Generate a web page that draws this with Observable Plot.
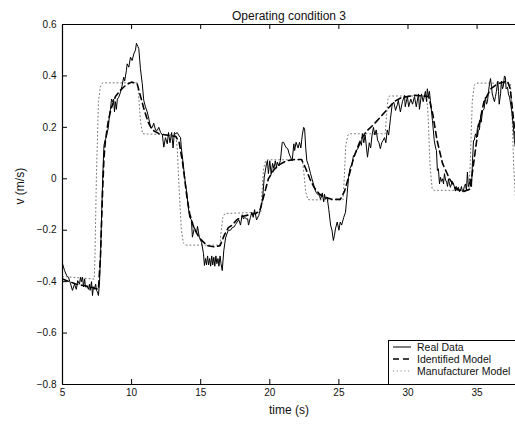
<!DOCTYPE html>
<html>
<head>
<meta charset="utf-8">
<script src="https://cdn.jsdelivr.net/npm/d3@7"></script>
<script src="https://cdn.jsdelivr.net/npm/@observablehq/plot@0.6"></script>
<style>
  html, body { margin: 0; padding: 0; background: #fff; overflow: hidden; }
  #chart svg { display: block; }
</style>
</head>
<body>
<div id="chart"></div>
<script>
// Measured velocity (time in s, velocity in m/s)
const realT = [5.0,5.15,5.3,5.43,5.58,5.72,5.87,6.0,6.1,6.23,6.3,6.37,6.45,6.52,6.6,6.66,6.8,6.88,6.95,7.0,7.1,7.17,7.24,7.3,7.4,7.46,7.53,7.6,7.68,7.76,7.84,7.92,8.0,8.08,8.16,8.24,8.32,8.4,8.47,8.55,8.62,8.7,8.76,8.83,8.9,8.97,9.07,9.2,9.3,9.43,9.5,9.56,9.62,9.68,9.8,9.92,10.04,10.16,10.28,10.35,10.45,10.52,10.64,10.77,10.88,11.0,11.13,11.25,11.37,11.5,11.6,11.73,11.85,11.97,12.1,12.23,12.33,12.45,12.58,12.67,12.78,12.9,13.0,13.1,13.2,13.3,13.4,13.54,13.6,13.75,13.88,14.0,14.1,14.2,14.33,14.4,14.55,14.7,14.77,14.9,15.06,15.2,15.27,15.35,15.42,15.5,15.57,15.65,15.72,15.8,15.87,15.95,16.02,16.1,16.17,16.25,16.32,16.4,16.47,16.56,16.67,16.8,16.9,17.0,17.16,17.28,17.4,17.52,17.64,17.76,17.88,18.0,18.1,18.2,18.3,18.4,18.46,18.6,18.7,18.8,18.9,19.04,19.2,19.3,19.47,19.6,19.76,19.83,19.9,20.0,20.1,20.2,20.3,20.4,20.48,20.55,20.65,20.77,20.9,21.0,21.1,21.2,21.3,21.4,21.55,21.62,21.74,21.8,21.9,22.05,22.15,22.25,22.35,22.45,22.52,22.6,22.68,22.8,22.95,23.05,23.16,23.25,23.35,23.45,23.6,23.67,23.8,23.9,23.96,24.03,24.15,24.27,24.4,24.5,24.6,24.68,24.75,24.88,25.0,25.1,25.2,25.35,25.48,25.6,25.7,25.8,25.96,26.05,26.13,26.2,26.27,26.4,26.56,26.63,26.7,26.8,26.9,27.0,27.07,27.2,27.3,27.4,27.5,27.6,27.7,27.8,27.9,28.0,28.1,28.2,28.3,28.4,28.5,28.6,28.73,28.86,28.97,29.1,29.24,29.3,29.45,29.6,29.75,29.8,29.96,30.05,30.2,30.33,30.47,30.6,30.76,30.83,30.98,31.1,31.26,31.34,31.4,31.48,31.55,31.62,31.77,31.9,32.0,32.06,32.13,32.2,32.28,32.35,32.42,32.5,32.57,32.64,32.72,32.8,32.86,32.93,33.0,33.07,33.2,33.3,33.43,33.5,33.58,33.65,33.72,33.8,33.87,33.94,34.0,34.08,34.16,34.23,34.3,34.37,34.45,34.5,34.6,34.67,34.74,34.8,34.88,34.96,35.03,35.1,35.17,35.25,35.3,35.4,35.5,35.6,35.68,35.75,35.83,35.9,35.97,36.04,36.1,36.2,36.26,36.33,36.4,36.5,36.55,36.6,36.7,36.76,36.84,36.9,36.98,37.05,37.1,37.2,37.27,37.35,37.5,37.63,37.7,37.8];
const realV = [-0.33,-0.357,-0.376,-0.383,-0.408,-0.434,-0.41,-0.43,-0.396,-0.41,-0.383,-0.40,-0.383,-0.42,-0.389,-0.42,-0.42,-0.43,-0.41,-0.434,-0.40,-0.454,-0.42,-0.43,-0.41,-0.434,-0.44,-0.454,-0.40,-0.28,-0.12,0.02,0.13,0.15,0.16,0.18,0.20,0.25,0.27,0.31,0.30,0.31,0.26,0.30,0.27,0.31,0.317,0.337,0.36,0.395,0.38,0.40,0.42,0.447,0.434,0.473,0.46,0.486,0.50,0.527,0.515,0.506,0.428,0.37,0.305,0.28,0.26,0.233,0.20,0.20,0.216,0.19,0.188,0.20,0.18,0.17,0.123,0.16,0.136,0.18,0.14,0.18,0.12,0.18,0.175,0.18,0.17,0.16,0.12,0.05,-0.01,-0.058,-0.11,-0.15,-0.16,-0.227,-0.19,-0.21,-0.185,-0.227,-0.247,-0.29,-0.337,-0.31,-0.335,-0.30,-0.335,-0.31,-0.34,-0.30,-0.335,-0.305,-0.34,-0.30,-0.33,-0.31,-0.34,-0.30,-0.33,-0.357,-0.28,-0.23,-0.214,-0.20,-0.20,-0.19,-0.188,-0.178,-0.168,-0.16,-0.18,-0.14,-0.156,-0.15,-0.156,-0.156,-0.18,-0.15,-0.13,-0.15,-0.12,-0.16,-0.143,-0.123,-0.084,0.006,0.058,0.071,0.02,0.07,0.017,0.06,0.04,0.07,0.045,0.065,0.05,0.071,0.142,0.142,0.13,0.12,0.117,0.097,0.078,0.07,0.136,0.11,0.142,0.12,0.142,0.12,0.17,0.20,0.195,0.12,0.07,0.052,0.02,0.0,-0.02,-0.04,-0.052,-0.06,-0.065,-0.08,-0.055,-0.09,-0.06,-0.08,-0.072,-0.12,-0.18,-0.20,-0.24,-0.22,-0.195,-0.168,-0.20,-0.168,-0.18,-0.15,-0.13,-0.058,0.006,0.04,0.058,0.09,0.09,0.10,0.11,0.12,0.142,0.13,0.175,0.14,0.17,0.12,0.084,0.14,0.12,0.17,0.20,0.17,0.19,0.15,0.14,0.117,0.14,0.149,0.16,0.14,0.19,0.17,0.233,0.29,0.298,0.266,0.29,0.305,0.26,0.30,0.324,0.28,0.32,0.28,0.31,0.29,0.32,0.28,0.33,0.27,0.33,0.30,0.34,0.30,0.35,0.32,0.34,0.305,0.227,0.149,0.12,0.11,0.032,0.039,-0.02,0.006,-0.01,0.0,-0.02,0.02,-0.005,-0.013,-0.03,0.0,-0.02,-0.033,-0.01,-0.02,-0.048,-0.03,-0.04,-0.033,-0.05,-0.045,-0.03,-0.05,-0.048,-0.03,-0.02,-0.045,0.026,-0.03,-0.02,0.0,-0.03,0.07,0.149,0.15,0.175,0.16,0.20,0.214,0.19,0.24,0.22,0.266,0.27,0.317,0.29,0.30,0.34,0.37,0.39,0.36,0.33,0.31,0.30,0.32,0.34,0.38,0.34,0.29,0.33,0.38,0.35,0.36,0.40,0.395,0.35,0.356,0.33,0.317,0.266,0.20,0.15,0.11];

// Identified model response
const identT = [5.0,6.0,7.0,7.6,7.75,7.9,8.0,8.11,8.3,8.5,8.83,9.2,9.6,10.0,10.4,10.6,10.9,11.2,11.5,12.0,12.5,13.2,13.45,13.7,14.0,14.2,14.5,14.9,15.47,16.0,16.4,16.7,17.0,17.28,17.6,18.0,18.5,19.0,19.3,19.6,19.9,20.3,20.7,21.2,21.8,22.3,22.6,22.9,23.2,23.6,23.9,24.5,25.1,25.4,25.7,26.08,26.56,27.0,27.5,28.0,28.5,29.0,29.5,30.5,31.5,31.8,32.1,32.5,33.0,33.5,34.0,34.5,34.8,35.1,35.5,36.0,36.5,37.2,37.4,37.6,37.8];
const identV = [-0.39,-0.41,-0.42,-0.43,-0.30,-0.05,0.08,0.15,0.22,0.27,0.32,0.345,0.365,0.376,0.37,0.33,0.27,0.22,0.19,0.175,0.17,0.165,0.14,0.06,-0.07,-0.135,-0.19,-0.23,-0.26,-0.265,-0.26,-0.22,-0.19,-0.18,-0.16,-0.147,-0.14,-0.135,-0.12,-0.06,0.0,0.035,0.055,0.07,0.075,0.075,0.04,0.0,-0.033,-0.06,-0.07,-0.08,-0.08,-0.05,0.006,0.084,0.15,0.185,0.21,0.24,0.27,0.30,0.315,0.325,0.32,0.25,0.15,0.06,0.0,-0.04,-0.05,-0.04,0.08,0.20,0.30,0.35,0.37,0.38,0.35,0.25,0.15];

// Manufacturer model response
const manuT = [5.0,7.3,7.35,7.45,7.6,7.75,7.9,10.4,10.5,10.65,10.8,13.2,13.3,13.45,13.6,13.75,13.9,16.4,16.45,16.6,16.75,19.35,19.4,19.55,19.7,19.85,22.35,22.45,22.6,22.75,22.9,25.3,25.35,25.5,25.65,25.8,28.35,28.45,28.55,28.65,31.35,31.45,31.6,31.75,31.9,34.4,34.5,34.65,34.8,34.95,37.4,37.5,37.65,37.8];
const manuV = [-0.38,-0.39,-0.30,0.0,0.30,0.36,0.373,0.373,0.33,0.22,0.175,0.17,0.12,-0.05,-0.20,-0.25,-0.258,-0.258,-0.22,-0.15,-0.135,-0.13,-0.08,0.04,0.07,0.074,0.074,0.03,-0.05,-0.08,-0.082,-0.082,-0.04,0.13,0.17,0.175,0.175,0.25,0.31,0.322,0.322,0.25,0.05,-0.04,-0.045,-0.045,0.05,0.30,0.365,0.372,0.372,0.30,0.05,-0.10];

const xTicks = [5, 10, 15, 20, 25, 30, 35];
const yTicks = [-0.8, -0.6, -0.4, -0.2, 0, 0.2, 0.4, 0.6];
const xDomain = [5, 37.78];
const yDomain = [-0.8, 0.6];
const titleText = "Operating condition 3";
const xLabel = "time (s)";
const yLabel = "v (m/s)";
const seriesNames = ["Real Data", "Identified Model", "Manufacturer Model"];

// Layout
const W = 515, H = 425;
const mL = 62, mT = 24, mB = 41, mR = 0;
const plotW = W - mL - mR, plotH = H - mT - mB;
const font = "'Liberation Sans', Arial, Helvetica, sans-serif";

const rows = (ts, vs) => ts.map((t, i) => ({t, v: vs[i]}));
const real = rows(realT, realV);
const ident = rows(identT, identV);
const manu = rows(manuT, manuV);

const fmtY = d => d === 0 ? "0" : (d < 0 ? "\u2212" : "") + Math.abs(d).toFixed(1);

const styles = {
  real: {stroke: "#000", strokeWidth: 1},
  ident: {stroke: "#000", strokeWidth: 1.6, strokeDasharray: "6,4"},
  manu: {stroke: "#777", strokeWidth: 1, strokeDasharray: "1,2.8"}
};

const chart = Plot.plot({
  width: W, height: H,
  marginLeft: mL, marginRight: mR, marginTop: mT, marginBottom: mB,
  style: {fontFamily: font, fontSize: "10px", color: "#000", background: "#fff"},
  x: {domain: xDomain, label: null},
  y: {domain: yDomain, label: null},
  marks: [
    Plot.line(manu, {x: "t", y: "v", ...styles.manu, clip: true}),
    Plot.line(ident, {x: "t", y: "v", ...styles.ident, clip: true}),
    Plot.line(real, {x: "t", y: "v", ...styles.real, strokeLinejoin: "miter", clip: true}),
    // inward-pointing ticks on bottom, top and left edges
    Plot.tickX(xTicks, {x: d => d, insetTop: plotH - 5, stroke: "#000"}),
    Plot.tickX(xTicks, {x: d => d, insetBottom: plotH - 5, stroke: "#000"}),
    Plot.tickY(yTicks, {y: d => d, insetRight: plotW - 5, stroke: "#000"}),
    Plot.axisX(xTicks, {tickSize: 0, tickPadding: 4, label: null, fill: "#111"}),
    Plot.axisY(yTicks, {tickSize: 0, tickPadding: 6, tickFormat: fmtY, label: null, fill: "#111"}),
    // axes box
    Plot.ruleY(yDomain, {stroke: "#000", strokeWidth: 1.2}),
    Plot.ruleX([xDomain[0]], {stroke: "#000", strokeWidth: 1.2}),
    // titles
    Plot.text([titleText], {frameAnchor: "top", dy: -13, fontSize: 12, fill: "#111"}),
    Plot.text([xLabel], {frameAnchor: "bottom", dy: 29, fontSize: 12, fill: "#111"}),
    Plot.text([yLabel], {frameAnchor: "left", dx: -42, rotate: -90, fontSize: 12, fill: "#111"})
  ]
});

// Legend in the lower-right corner
const svg = d3.select(chart);
const lx = 388, ly = 340, rowH = 12;
const lg = svg.append("g")
  .attr("font-family", font).attr("font-size", 10.5).attr("text-anchor", "start");
lg.append("rect")
  .attr("x", lx + 0.5).attr("y", ly + 0.5)
  .attr("width", W - lx + 5).attr("height", H - mB - ly)
  .attr("fill", "#fff").attr("stroke", "#000").attr("stroke-width", 1);
const legendStyles = [styles.real, styles.ident, styles.manu];
seriesNames.forEach((name, i) => {
  const y = ly + 7 + i * rowH;
  const s = legendStyles[i];
  lg.append("line")
    .attr("x1", lx + 5).attr("x2", lx + 23).attr("y1", y).attr("y2", y)
    .attr("stroke", s.stroke).attr("stroke-width", s.strokeWidth)
    .attr("stroke-dasharray", s.strokeDasharray || null);
  lg.append("text")
    .attr("x", lx + 29).attr("y", y).attr("dy", "0.35em")
    .attr("text-anchor", "start")
    .attr("fill", "#111").text(name);
});

document.getElementById("chart").appendChild(chart);
</script>
</body>
</html>
